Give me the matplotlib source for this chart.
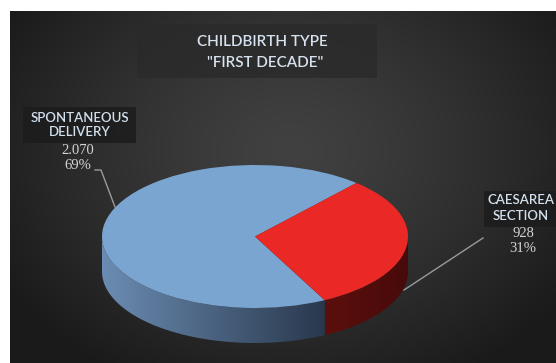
import numpy as np
import matplotlib.pyplot as plt
from matplotlib.patches import Polygon, Rectangle

# data
categories = ["SPONTANEOUS\nDELIVERY", "CAESAREA\nSECTION"]
values = [2070, 928]
title_lines = ["CHILDBIRTH TYPE", "\"FIRST DECADE\""]

top_colors = ["#7aa5d0", "#ea2826"]
W, H = 556, 363

fig = plt.figure(figsize=(W / 100, H / 100), dpi=100)
fig.patch.set_facecolor("white")

# main axes in pixel coordinates
ax = fig.add_axes([0, 0, 1, 1])
ax.set_xlim(0, W)
ax.set_ylim(H, 0)
ax.axis("off")

# dark radial background
gx, gy = np.meshgrid(np.linspace(10, W, 300), np.linspace(11, H, 200))
r = np.sqrt(((gx - 290) / 330) ** 2 + ((gy - 150) / 260) ** 2)
r = np.clip(r, 0, 1)
c0, c1 = 0.255, 0.105
bg = c0 + (c1 - c0) * r ** 1.3
ax.imshow(np.dstack([bg, bg, bg]), extent=(10, W, H, 11), aspect="auto",
          interpolation="bilinear", zorder=0)
ax.set_xlim(0, W)
ax.set_ylim(H, 0)

# title box
ax.add_patch(Rectangle((137, 24), 240, 54, facecolor="#2a2a2a", edgecolor="none",
                       alpha=0.8, zorder=1))
ax.text(262, 42, title_lines[0], ha="center", va="center", fontsize=11,
        family="Lato", weight="semibold", color="#d6e2ef", zorder=2)
ax.text(265, 63, title_lines[1], ha="center", va="center", fontsize=11,
        family="Lato", weight="semibold", color="#d6e2ef", zorder=2)

total = sum(values)
num_txt = [f"{v:,}".replace(",", ".") for v in values]
pct_txt = [f"{round(100 * v / total)}%" for v in values]

# label boxes + texts
ax.add_patch(Rectangle((23, 107), 113, 36, facecolor="#1c1c1c", edgecolor="none",
                       alpha=0.85, zorder=1))
ax.add_patch(Rectangle((484, 191), 72, 36, facecolor="#1c1c1c", edgecolor="none",
                       alpha=0.85, zorder=1))
lab_pos = [(80, 125), (521, 208)]
num_pos = [(78, 158), (523, 241)]
for i in range(len(values)):
    ax.text(lab_pos[i][0], lab_pos[i][1], categories[i], ha="center", va="center",
            fontsize=9.5, family="Lato", weight="semibold", color="#d2e0ee",
            linespacing=1.3, zorder=2)
    ax.text(num_pos[i][0], num_pos[i][1], num_txt[i] + "\n" + pct_txt[i],
            ha="center", va="center", fontsize=10.5, family="Liberation Serif",
            color="#d4d4d4", linespacing=1.15, zorder=2)

# leader lines
ax.plot([95, 101, 115], [170, 170, 207], color="#9a9a9a", lw=1, zorder=2)
ax.plot([404, 483], [290, 238], color="#9a9a9a", lw=1, zorder=2)

# pie axes (ellipse bounding box, extended down for the side wall)
ex0, ex1, ey0, ey1 = 102, 408, 165, 308
dpx = 35
ry = (ey1 - ey0) / 2
depth = dpx / ry
pax = fig.add_axes([ex0 / W, (H - ey1 - dpx) / H, (ex1 - ex0) / W,
                    (ey1 - ey0 + dpx) / H])
pax.patch.set_visible(False)

start = 48.5
wedges, _ = pax.pie(values, colors=top_colors, startangle=start, counterclock=True,
                    wedgeprops=dict(linewidth=0, zorder=3))

# side walls
angles = [start]
for v in values:
    angles.append(angles[-1] + 360 * v / total)
side_cmaps = [((0.42, 0.55, 0.70), (0.16, 0.22, 0.30)),
              ((0.36, 0.06, 0.05), (0.28, 0.04, 0.04))]
for i in range(len(values)):
    a0, a1 = angles[i], angles[i + 1]
    # visible front part: 180..360 (mod 360)
    lo, hi = max(a0, 180), min(a1, 360)
    if hi <= lo:
        lo, hi = max(a0, 540), min(a1, 720)
    if hi <= lo:
        continue
    t = np.radians(np.linspace(lo, hi, 100))
    xs, ys = np.cos(t), np.sin(t)
    pts = np.concatenate([np.column_stack([xs, ys]),
                          np.column_stack([xs[::-1], ys[::-1] - depth])])
    poly = Polygon(pts, closed=True, facecolor="none", edgecolor="none", zorder=1)
    pax.add_patch(poly)
    ca, cb = np.array(side_cmaps[i][0]), np.array(side_cmaps[i][1])
    gxx = np.linspace(0, 1, 200)[None, :, None]
    grad = ca + (cb - ca) * gxx
    grad = np.repeat(grad, 2, axis=0)
    im = pax.imshow(grad, extent=(xs.min(), xs.max(), -1 - depth, 0),
                    aspect="auto", zorder=1, interpolation="bilinear")
    im.set_clip_path(poly)

pax.set_aspect("auto")
pax.set_xlim(-1, 1)
pax.set_ylim(-1 - depth, 1)
pax.axis("off")

fig.savefig("out.png", dpi=100)
